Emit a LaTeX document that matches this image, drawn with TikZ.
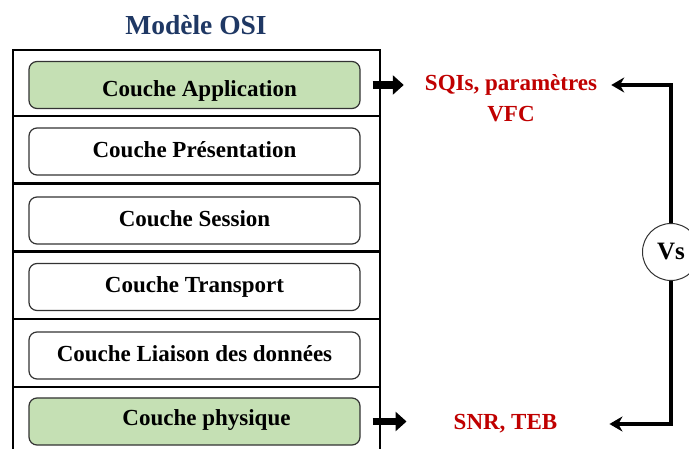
\documentclass[tikz,border=0pt]{standalone}
\usepackage{fontspec}
\setmainfont{Liberation Serif}
\usetikzlibrary{arrows.meta}
\definecolor{navy}{HTML}{1F3864}
\definecolor{lgreen}{HTML}{C5E0B4}
\definecolor{dred}{HTML}{C00000}
\begin{document}
\begin{tikzpicture}[x=1pt,y=-1pt,
 layerbox/.style={draw=black!80, line width=1.2pt, rounded corners=8pt, minimum width=331pt, minimum height=47pt, inner sep=0pt, text height=16pt, text depth=4pt, font=\bfseries\fontsize{23}{26}\selectfont},
 greenfill/.style={fill=lgreen},
 sepline/.style={line width=2.5pt},
 framestyle/.style={line width=1.5pt},
 redlabel/.style={text=dred, inner sep=0pt, text height=16pt, text depth=4pt, font=\bfseries\fontsize{23}{26}\selectfont, anchor=base},
 fatarrow/.style={line width=7.5pt, -{Triangle[width=19pt,length=11pt]}, shorten <=12pt},
 looparrow/.style={line width=4pt, -{Stealth[width=15pt,length=13pt]}},
]
\useasboundingbox (0,0) rectangle (689,449);
\clip (0,0) rectangle (689,449);
\fill[white] (0,0) rectangle (689,449);

% title
\node[anchor=base, text=navy, font=\bfseries\fontsize{27.5}{30}\selectfont, inner sep=0pt] (title) at (196,35) {Modèle OSI};

% frame
\draw[framestyle] (13,470) -- (13,50) -- (380,50) -- (380,470);
\foreach \yy in {116,183.5,251.5,319,387}{
  \draw[sepline] (13,\yy) -- (380,\yy);
}

% layers
\node[layerbox, greenfill, text height=24pt, text depth=0pt] (app) at (194.5,85) {\hspace*{10pt}Couche Application};
\node[layerbox] (pres) at (194.5,151.5) {Couche Présentation};
\node[layerbox] (sess) at (194.5,220.5) {Couche Session};
\node[layerbox] (trans) at (194.5,287) {Couche Transport};
\node[layerbox] (liai) at (194.5,355.5) {Couche Liaison des données};
\node[layerbox, greenfill, text height=11pt, text depth=4pt] (phys) at (194.5,421.5) {\hspace*{24pt}Couche physique};

% labels
\node[redlabel] (sqi) at (511,91) {SQIs, paramètres};
\node[redlabel] (vfc) at (511,121.5) {VFC};
\node[redlabel] (snr) at (505.5,430) {SNR, TEB};

% Vs circle
\node[circle, draw=black!80, line width=1pt, fill=white, minimum size=57pt, inner sep=0pt, font=\bfseries\fontsize{25}{28}\selectfont] (vs) at (671,252) {Vs};

% arrows
\draw[fatarrow, shorten >=21pt] (app.east) -- (sqi.west |- app.east);
\draw[fatarrow, shorten >=47pt] (phys.east) -- (snr.west |- phys.east);
\draw[looparrow, shorten >=14pt] (vs.north) |- (sqi.east);
\draw[looparrow, shorten >=52pt] (vs.south) |- (snr.east);
\end{tikzpicture}
\end{document}
